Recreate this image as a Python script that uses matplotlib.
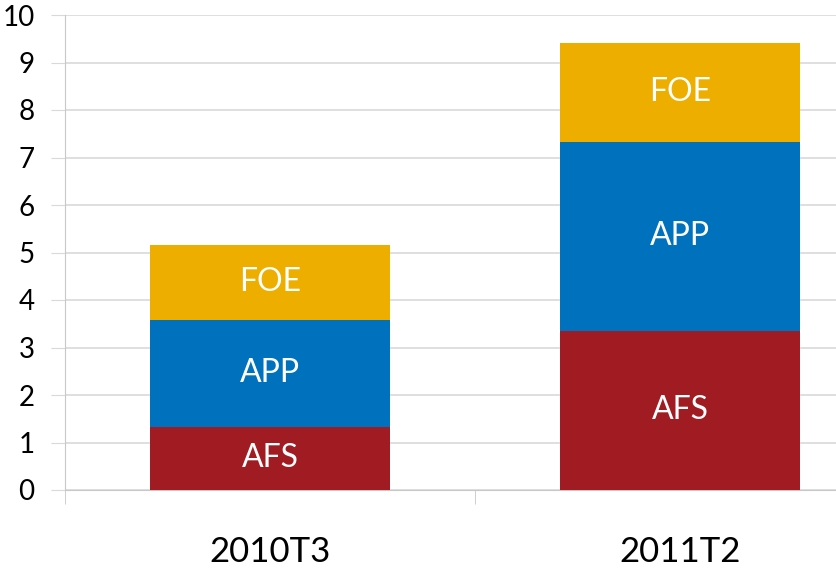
import matplotlib.pyplot as plt
import numpy as np

categories = ["2010T3", "2011T2"]
series = ["AFS", "APP", "FOE"]
afs = [1.33, 3.35]
app = [2.25, 3.98]
foe = [1.58, 2.08]
colors = ["#A01C22", "#0071BC", "#EDAE00"]

plt.rcParams["font.family"] = ["Lato", "DejaVu Sans"]

fig = plt.figure(figsize=(8.37, 5.69), dpi=100)
ax = fig.add_axes([65 / 837, 1 - 490 / 569, 1 - 65 / 837, (490 - 15) / 569])

x = np.arange(len(categories))
bottom = np.zeros(len(categories))
for name, vals, col in zip(series, [afs, app, foe], colors):
    vals = np.array(vals)
    bars = ax.bar(x, vals, width=0.585, bottom=bottom, color=col, zorder=3)
    ax.bar_label(bars, labels=[name] * len(vals), label_type="center",
                 color="white", fontsize=23)
    bottom += vals

ax.set_yticks(range(0, 11))
ax.yaxis.grid(True, color="#d9d9d9", linewidth=1.2, zorder=0)
ax.tick_params(axis="y", length=10, color="#d9d9d9", labelsize=20, pad=12)

ax.set_xticks(x)
ax.set_xticklabels(categories, fontsize=25)
ax.tick_params(axis="x", length=0, pad=33)
ax.set_xticks([-0.5, 0.5, 1.5], minor=True)
ax.tick_params(axis="x", which="minor", length=10, color="#c8c8c8")

# limits after ticks, otherwise the minor tick at 1.5 widens the axis
ax.set_ylim(0, 10)
ax.set_xlim(-0.5, -0.5 + 772 / 410)

for s in ["top", "right"]:
    ax.spines[s].set_visible(False)
ax.spines["left"].set_color("#c8c8c8")
ax.spines["bottom"].set_color("#c8c8c8")

plt.savefig("out.png", dpi=100)
